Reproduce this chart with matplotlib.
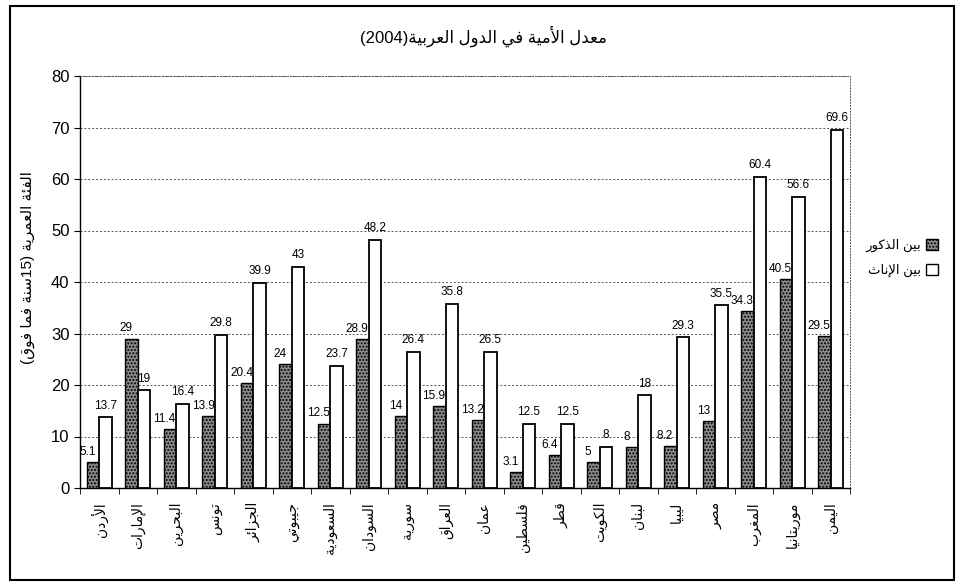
import re
import numpy as np
import matplotlib
matplotlib.use('Agg')
import matplotlib.pyplot as plt
from matplotlib.patches import Rectangle

plt.rcParams['font.family'] = ['Liberation Sans', 'DejaVu Sans']

countries = ['الأردن', 'الإمارات', 'البحرين', 'تونس', 'الجزائر', 'جيبوتي', 'السعودية',
             'السودان', 'سورية', 'العراق', 'عمان', 'فلسطين', 'قطر', 'الكويت', 'لبنان',
             'ليبيا', 'مصر', 'المغرب', 'موريتانيا', 'اليمن']
males = [5.1, 29, 11.4, 13.9, 20.4, 24, 12.5, 28.9, 14, 15.9, 13.2, 3.1, 6.4, 5, 8,
         8.2, 13, 34.3, 40.5, 29.5]
females = [13.7, 19, 16.4, 29.8, 39.9, 43, 23.7, 48.2, 26.4, 35.8, 26.5, 12.5, 12.5, 8,
           18, 29.3, 35.5, 60.4, 56.6, 69.6]
title = 'معدل الأمية في الدول العربية(2004)'
ylabel = 'الفئة العمرية (15سنة فما فوق)'
legend_labels = ['بين الذكور', 'بين الإناث']

# matplotlib has no arabic shaping -> map letters to presentation forms by hand
ISO = {'آ': 0xFE81, 'أ': 0xFE83, 'ؤ': 0xFE85, 'إ': 0xFE87, 'ئ': 0xFE89, 'ا': 0xFE8D,
       'ب': 0xFE8F, 'ة': 0xFE93, 'ت': 0xFE95, 'ث': 0xFE99, 'ج': 0xFE9D, 'ح': 0xFEA1,
       'خ': 0xFEA5, 'د': 0xFEA9, 'ذ': 0xFEAB, 'ر': 0xFEAD, 'ز': 0xFEAF, 'س': 0xFEB1,
       'ش': 0xFEB5, 'ص': 0xFEB9, 'ض': 0xFEBD, 'ط': 0xFEC1, 'ظ': 0xFEC5, 'ع': 0xFEC9,
       'غ': 0xFECD, 'ف': 0xFED1, 'ق': 0xFED5, 'ك': 0xFED9, 'ل': 0xFEDD, 'م': 0xFEE1,
       'ن': 0xFEE5, 'ه': 0xFEE9, 'و': 0xFEED, 'ى': 0xFEEF, 'ي': 0xFEF1}
RIGHT_ONLY = set('آأؤإادذرزةوى')
LAMALEF = {'آ': 0xFEF5, 'أ': 0xFEF7, 'إ': 0xFEF9, 'ا': 0xFEFB}


def shape(word):
    out = []
    i = 0
    while i < len(word):
        c = word[i]
        if c not in ISO:
            out.append(c)
            i += 1
            continue
        prev = word[i - 1] if i > 0 else ''
        jp = prev in ISO and prev not in RIGHT_ONLY
        if c == 'ل' and i + 1 < len(word) and word[i + 1] in LAMALEF:
            out.append(chr(LAMALEF[word[i + 1]] + int(jp)))
            i += 2
            continue
        nxt = word[i + 1] if i + 1 < len(word) else ''
        jn = c not in RIGHT_ONLY and nxt in ISO
        base = ISO[c]
        if jp and jn:
            f = base + 3
        elif jp:
            f = base + 1
        elif jn:
            f = base + 2
        else:
            f = base
        out.append(chr(f))
        i += 1
    return ''.join(out)


def ar(text):
    s = shape(text)[::-1]
    s = re.sub(r'\d+', lambda m: m.group(0)[::-1], s)
    return s.translate(str.maketrans('()', ')('))


fig = plt.figure(figsize=(9.58, 5.86), dpi=100)
ax = fig.add_axes([80 / 958, 1 - 488 / 586, 770 / 958, 412 / 586])

x = np.arange(len(countries))
w = 0.32
ax.bar(x - w / 2, males, w, facecolor='#8c8c8c', edgecolor='black', hatch='.....',
       linewidth=1, zorder=3)
ax.bar(x + w / 2, females, w, facecolor='white', edgecolor='black', linewidth=1.3, zorder=3)

for i in range(len(countries)):
    ax.annotate(f'{males[i]:g}', (x[i] - w / 2, males[i]), xytext=(-4, 3),
                textcoords='offset points', ha='center', va='bottom', fontsize=8.5)
    ax.annotate(f'{females[i]:g}', (x[i] + w / 2, females[i]), xytext=(0, 4),
                textcoords='offset points', ha='center', va='bottom', fontsize=8.5)

ax.set_xlim(-0.5, len(countries) - 0.5)
ax.set_ylim(0, 80)
ax.set_yticks(range(0, 81, 10))
ax.tick_params(axis='y', labelsize=12, length=4, direction='out')
ax.yaxis.grid(True, linestyle=(0, (2, 2)), color='#555555', linewidth=0.7)
ax.set_axisbelow(True)

ax.set_xticks(x)
ax.set_xticklabels([ar(c) for c in countries], rotation=90, fontsize=10)
ax.set_xticks(np.arange(-0.5, len(countries)), minor=True)
ax.tick_params(axis='x', which='major', length=0, pad=10)
ax.tick_params(axis='x', which='minor', length=4, direction='out')

for side in ['top', 'right']:
    ax.spines[side].set_linestyle((0, (1, 2)))
    ax.spines[side].set_linewidth(0.7)
    ax.spines[side].set_color('#555555')
ax.spines['left'].set_linewidth(1)
ax.spines['bottom'].set_linewidth(1)

fig.text(483 / 958, 1 - 36 / 586, ar(title), ha='center', va='center', fontsize=12)
fig.text(28 / 958, 1 - 268 / 586, ar(ylabel), rotation=90, ha='center', va='center',
         fontsize=11)

handles = [Rectangle((0, 0), 1, 1, facecolor='#8c8c8c', edgecolor='black', hatch='.....'),
           Rectangle((0, 0), 1, 1, facecolor='white', edgecolor='black')]
fig.legend(handles, [ar(t) for t in legend_labels], loc='center right',
           bbox_to_anchor=(950 / 958, 1 - 258 / 586), markerfirst=False, frameon=False,
           fontsize=9.5, handlelength=0.9, handleheight=0.9, handletextpad=0.4,
           labelspacing=0.9)

fig.patches.append(Rectangle((10 / 958, 6 / 586), 944 / 958, 574 / 586,
                             transform=fig.transFigure, fill=False, edgecolor='black',
                             linewidth=1.5))

fig.savefig('out.png', dpi=100)
